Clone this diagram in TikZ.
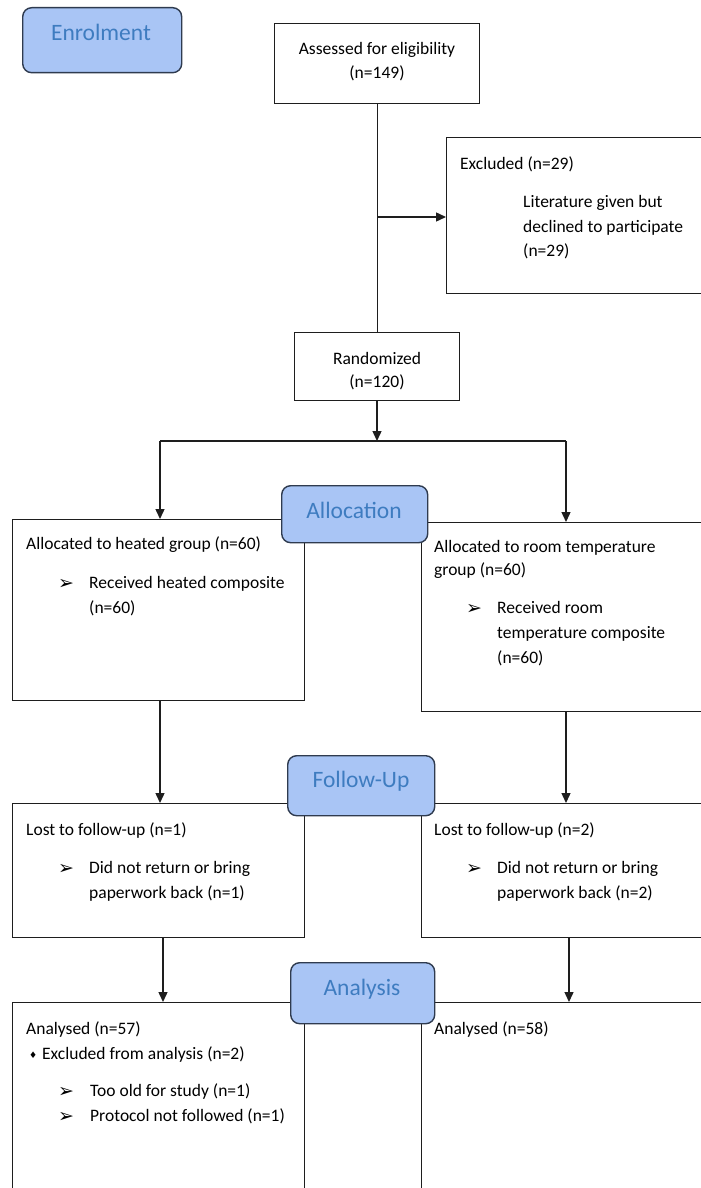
\documentclass[tikz,border=0pt]{standalone}
\usepackage{fontspec}
\setmainfont{Carlito}
\newfontfamily\symfont{DejaVu Sans}
\usetikzlibrary{arrows.meta}
\definecolor{stagefill}{HTML}{A9C5F5}
\definecolor{stagetext}{HTML}{3E7CC0}
\definecolor{stageline}{HTML}{2F3B4F}
\definecolor{linec}{HTML}{1E1E1E}
\newcommand{\bodyfont}{\fontsize{17.5}{21}\selectfont}
\newcommand{\titlefont}{\fontsize{23.5}{28}\selectfont}
\newcommand{\arrowsym}{{\symfont\fontsize{19}{21}\selectfont ➢}}
\newcommand{\diasym}{{\symfont\fontsize{9}{11}\selectfont ♦}}
\tikzset{
  box/.style={draw=linec, line width=1.4pt, rectangle, anchor=north west, inner sep=0pt, fill=white},
  stagebox/.style={draw=stageline, line width=1.4pt, rectangle, rounded corners=9pt, anchor=north west, inner sep=0pt, fill=stagefill},
  stagelabel/.style={font=\titlefont, text=stagetext, anchor=base, inner sep=0pt},
  txt/.style={font=\bodyfont, anchor=base west, inner sep=0pt},
  ctxt/.style={font=\bodyfont, anchor=base, inner sep=0pt},
  conn/.style={draw=linec, line width=1.4pt},
  arr/.style={conn, -{Triangle[length=10pt,width=9pt]}},
}
\begin{document}
\begin{tikzpicture}[x=1pt,y=-1pt]
\useasboundingbox (0,0) rectangle (701,1188);
\clip (0,0) rectangle (701,1188);
\fill[white] (0,0) rectangle (701,1188);

% main boxes
\node[box, minimum width=205pt, minimum height=80pt] (assess) at (274,23) {};
\node[box, minimum width=290pt, minimum height=156pt] (excl) at (446,137) {};
\node[box, minimum width=165pt, minimum height=68pt] (rand) at (294,332) {};
\node[box, minimum width=292pt, minimum height=181pt] (heat) at (12,519) {};
\node[box, minimum width=300pt, minimum height=189pt] (room) at (421,522) {};
\node[box, minimum width=292pt, minimum height=134pt] (lostL) at (12,803) {};
\node[box, minimum width=300pt, minimum height=134pt] (lostR) at (421,803) {};
\node[box, minimum width=292pt, minimum height=230pt] (anL) at (12,1002) {};
\node[box, minimum width=300pt, minimum height=230pt] (anR) at (421,1002) {};

% stage boxes
\node[stagebox, minimum width=159pt, minimum height=65pt] (enrol) at (22,7) {};
\node[stagebox, minimum width=146pt, minimum height=57pt] (alloc) at (281,485) {};
\node[stagebox, minimum width=147pt, minimum height=60pt] (fu) at (287,755) {};
\node[stagebox, minimum width=144pt, minimum height=61pt] (an) at (290,962) {};

\node[stagelabel] (enrolT) at (101,40.5) {Enrolment};
\node[stagelabel] (allocT) at (354,518) {Allocation};
\node[stagelabel] (fuT) at (361,787.5) {Follow-Up};
\node[stagelabel] (anT) at (362,995.5) {Analysis};

% connectors
\coordinate (ex) at (377,217);
\coordinate (split) at (377,441);
\coordinate (bL) at (160,441);
\coordinate (bR) at (566,441);
\coordinate (cL) at (160,700);
\coordinate (cR) at (566,711);
\coordinate (dL) at (163,937);
\coordinate (dR) at (569,937);
\draw[conn] (assess.south) -- (rand.north);
\draw[arr] (ex) -- (excl.west |- ex);
\draw[arr] (rand.south -| split) -- (split);
\draw[conn] (bL) -- (bR);
\draw[arr] (bL) -- (bL |- heat.north);
\draw[arr] (bR) -- (bR |- room.north);
\draw[arr] (heat.south -| cL) -- (cL |- lostL.north);
\draw[arr] (room.south -| cR) -- (cR |- lostR.north);
\draw[arr] (lostL.south -| dL) -- (dL |- anL.north);
\draw[arr] (lostR.south -| dR) -- (dR |- anR.north);

% texts
\node[ctxt] (a1) at (377,55) {Assessed for eligibility};
\node[ctxt] (a2) at (377,79) {(n=149)};
\node[ctxt] (r1) at (377,364) {Randomized};
\node[ctxt] (r2) at (377,387) {(n=120)};

\node[txt] (e1) at (460,169) {Excluded (n=29)};
\node[txt] (e2) at (523,207) {Literature given but};
\node[txt] (e3) at (523,232) {declined to participate};
\node[txt] (e4) at (523,256) {(n=29)};

\node[txt] (h1) at (26,549) {Allocated to heated group (n=60)};
\node[txt] (hb) at (58,589) {\arrowsym};
\node[txt] (h2) at (89,588) {Received heated composite};
\node[txt] (h3) at (89,613) {(n=60)};

\node[txt] (m1) at (434,552) {Allocated to room temperature};
\node[txt] (m2) at (434,575) {group (n=60)};
\node[txt] (mb) at (466,614) {\arrowsym};
\node[txt] (m3) at (497,613) {Received room};
\node[txt] (m4) at (497,638) {temperature composite};
\node[txt] (m5) at (497,663) {(n=60)};

\node[txt] (l1) at (26,835) {Lost to follow-up (n=1)};
\node[txt] (lb) at (58,874) {\arrowsym};
\node[txt] (l2) at (89,873) {Did not return or bring};
\node[txt] (l3) at (89,898) {paperwork back (n=1)};

\node[txt] (k1) at (434,835) {Lost to follow-up (n=2)};
\node[txt] (kb) at (466,874) {\arrowsym};
\node[txt] (k2) at (497,873) {Did not return or bring};
\node[txt] (k3) at (497,898) {paperwork back (n=2)};

\node[txt] (n1) at (26,1034) {Analysed (n=57)};
\node[txt] (nd) at (29,1058) {\diasym};
\node[txt] (n2) at (42,1059) {Excluded from analysis (n=2)};
\node[txt] (nb1) at (58,1097) {\arrowsym};
\node[txt] (n3) at (90,1096) {Too old for study (n=1)};
\node[txt] (nb2) at (58,1122) {\arrowsym};
\node[txt] (n4) at (90,1121) {Protocol not followed (n=1)};

\node[txt] (o1) at (434,1034) {Analysed (n=58)};
\end{tikzpicture}
\end{document}
